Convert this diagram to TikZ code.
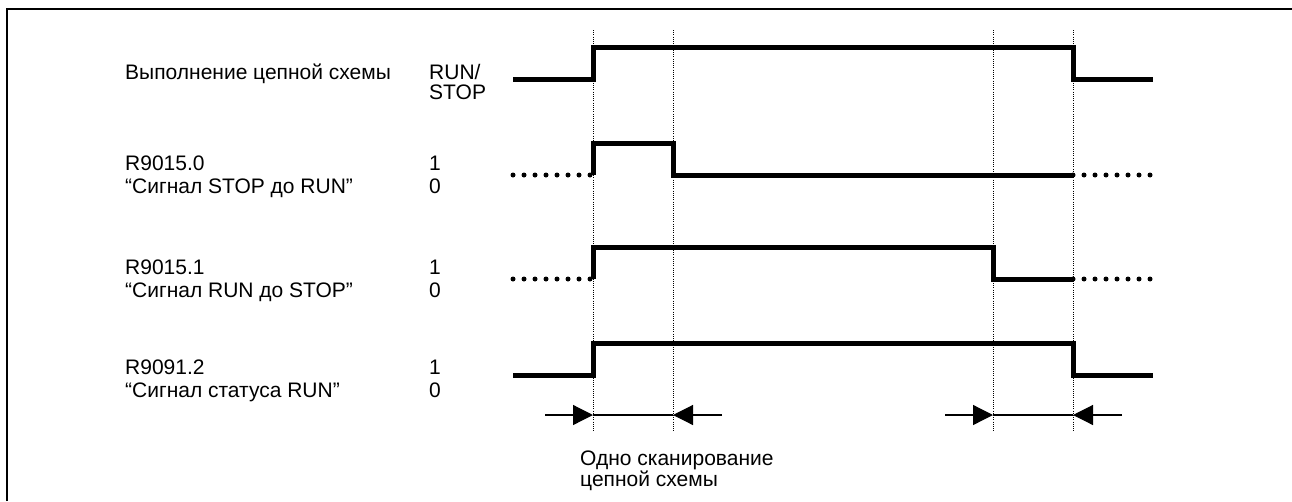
\documentclass[tikz,border=0pt]{standalone}
\usepackage{fontspec}
\setmainfont{Liberation Sans}
\usetikzlibrary{arrows.meta}
\tikzset{
  signal/.style={line width=5pt},
  undef/.style={line width=5pt, line cap=round, dash pattern=on 0pt off 11pt},
  marker/.style={line width=0.9pt, dash pattern=on 1pt off 1.2pt},
  scanline/.style={line width=1.2pt},
  scanarrow/.style={line width=1.2pt, -{Triangle[length=20pt,width=20pt]}},
  lbl/.style={anchor=base west, inner sep=0pt, font=\fontsize{21}{24}\selectfont},
}
\begin{document}
\begin{tikzpicture}[x=1pt, y=-1pt]
\useasboundingbox (0,0) rectangle (1292,501);
% frame
\draw[line width=2.5pt] (7,501) -- (7,9) -- (1292,9);

% time marks
\draw[marker] (593,30) -- (593,432);
\draw[marker] (673,30) -- (673,432);
\draw[marker] (993,30) -- (993,432);
\draw[marker] (1073,30) -- (1073,432);

% labels
\node[lbl] (run) at (125,79) {Выполнение цепной схемы};
\node[lbl] (runa) at (429,79) {RUN/};
\node[lbl] (runb) at (429,99) {STOP};
\node[lbl] (sra) at (125,170) {R9015.0};
\node[lbl] (srb) at (125,193) {“Сигнал STOP до RUN”};
\node[lbl] (sr1) at (429,170) {1};
\node[lbl] (sr0) at (429,193) {0};
\node[lbl] (rsa) at (125,274) {R9015.1};
\node[lbl] (rsb) at (125,297) {“Сигнал RUN до STOP”};
\node[lbl] (rs1) at (429,274) {1};
\node[lbl] (rs0) at (429,297) {0};
\node[lbl] (sta) at (125,374) {R9091.2};
\node[lbl] (stb) at (125,397) {“Сигнал статуса RUN”};
\node[lbl] (st1) at (429,374) {1};
\node[lbl] (st0) at (429,397) {0};
\node[lbl] (scana) at (580,465) {Одно сканирование};
\node[lbl] (scanb) at (580,486) {цепной схемы};

% RUN/STOP
\draw[signal] (513,79) -- (593,79) -- (593,47) -- (1073,47) -- (1073,79) -- (1153,79);
% R9015.0
\draw[undef] (513,175) -- (593,175);
\draw[signal] (593,175) -- (593,143) -- (673,143) -- (673,175) -- (1073,175);
\draw[undef] (1073,175) -- (1153,175);
% R9015.1
\draw[undef] (513,279) -- (593,279);
\draw[signal] (593,279) -- (593,247) -- (993,247) -- (993,279) -- (1073,279);
\draw[undef] (1073,279) -- (1153,279);
% R9091.2
\draw[signal] (513,375) -- (593,375) -- (593,343) -- (1073,343) -- (1073,375) -- (1153,375);

% one scan
\draw[scanarrow] (545,415) -- (593,415);
\draw[scanline] (593,415) -- (673,415);
\draw[scanarrow] (722,415) -- (673,415);
\draw[scanarrow] (945,415) -- (993,415);
\draw[scanline] (993,415) -- (1073,415);
\draw[scanarrow] (1122,415) -- (1073,415);
\end{tikzpicture}
\end{document}
